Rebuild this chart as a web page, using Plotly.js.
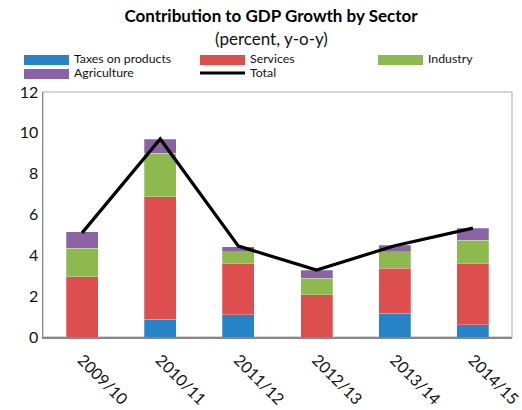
<!DOCTYPE html>
<html><head><meta charset="utf-8">
<script src="https://cdn.plot.ly/plotly-3.0.1.min.js"></script>
<style>body{margin:0;padding:0;background:#fff}#chart{width:522px;height:410px}</style>
</head><body><div id="chart"></div>
<script>
const categories = ["2009/10","2010/11","2011/12","2012/13","2013/14","2014/15"];
const taxes = [0.0, 0.87, 1.09, 0.0, 1.16, 0.59];
const services = [2.95, 6.0, 2.51, 2.06, 2.2, 3.02];
const industry = [1.39, 2.13, 0.58, 0.81, 0.82, 1.14];
const agriculture = [0.82, 0.69, 0.24, 0.41, 0.32, 0.57];
const total = [5.1, 9.7, 4.45, 3.28, 4.47, 5.33];
const seriesNames = ["Taxes on products","Services","Industry","Agriculture","Total"];
const colors = ["#2683C6","#DD4F4E","#8EB94E","#8B63A5","#000000"];

const FONT = "Lato, 'Open Sans', sans-serif";
const L=43, R=10, T=92, B=73, W=522, H=410;
const pw = W-L-R, ph = H-T-B;
const px = x => (x-L)/pw;
const py = y => (H-B-y)/ph;

const barSeries = [taxes, services, industry, agriculture];
const traces = barSeries.map((vals,i)=>({
  type:'bar', x:categories, y:vals, name:seriesNames[i],
  marker:{color:colors[i], line:{color:'rgba(255,255,255,0.5)', width:0.5}},
  showlegend:false, hoverinfo:'y'
}));
traces.push({type:'scatter', mode:'lines', x:categories, y:total, name:seriesNames[4],
  line:{color:'#000', width:3.2}, showlegend:false});

// manual legend
const legendPos = [[24,60],[200,60],[378,60],[24,74],[200,74]];
const shapes = [
  {type:'rect', xref:'paper', yref:'paper', x0:0, x1:1, y0:0, y1:1, line:{color:'#c8c8c8', width:1.5}, layer:'below'}
];
const annotations = [
  {text:'(percent, y-o-y)', xref:'paper', yref:'paper', x:px(271), y:py(38), xanchor:'center', yanchor:'middle', showarrow:false, font:{family:FONT, size:17, color:'#111'}}
];
legendPos.forEach((p,i)=>{
  if(i<4){
    shapes.push({type:'rect', xref:'paper', yref:'paper', x0:px(p[0]), x1:px(p[0]+45), y0:py(p[1]+5), y1:py(p[1]-5), fillcolor:colors[i], line:{width:0}});
  } else {
    shapes.push({type:'line', xref:'paper', yref:'paper', x0:px(p[0]), x1:px(p[0]+45), y0:py(p[1]-1), y1:py(p[1]-1), line:{color:'#000', width:3}});
  }
  annotations.push({text:seriesNames[i], xref:'paper', yref:'paper', x:px(p[0]+48), y:py(p[1]-1), xanchor:'left', yanchor:'middle', showarrow:false, font:{family:FONT, size:12.3, color:'#111'}});
});

const layout = {
  width:W, height:H,
  margin:{l:L, r:R, t:T, b:B},
  paper_bgcolor:'#fff', plot_bgcolor:'#fff',
  barmode:'stack', bargap:0.59,
  title:{text:'<b>Contribution to GDP Growth by Sector</b>', x:271/W, xanchor:'center', y:1-16/H, yanchor:'middle', font:{family:FONT, size:17, color:'#000'}},
  xaxis:{type:'category', tickangle:45, showgrid:false, showline:true, linecolor:'#888', linewidth:1.5, ticks:'', ticklabelstandoff:6, tickfont:{family:FONT, size:16, color:'#111'}, zeroline:false},
  yaxis:{range:[0,12], dtick:2, showgrid:false, showline:true, linecolor:'#888', linewidth:1.5, ticks:'', tickfont:{family:FONT, size:16, color:'#111'}, zeroline:false},
  shapes:shapes, annotations:annotations,
  showlegend:false
};
Plotly.newPlot('chart', traces, layout, {displayModeBar:false, staticPlot:true});
</script></body></html>
